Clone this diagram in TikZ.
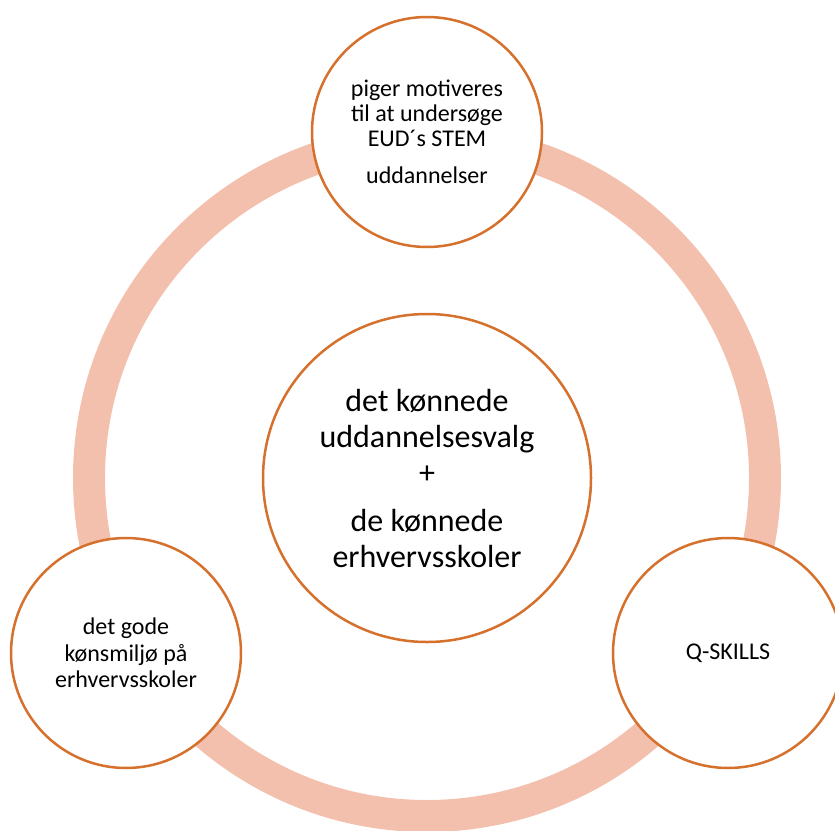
\documentclass[tikz,border=0pt]{standalone}
\usepackage{fontspec}
\setmainfont{Carlito}
\definecolor{ringc}{HTML}{F4C0AE}
\definecolor{edgec}{HTML}{D5702D}
\tikzset{
  bubble/.style={circle, draw=edgec, line width=2.5pt, fill=white, inner sep=0pt,
    minimum size=230pt, align=center, text=black},
  bigbubble/.style={bubble, minimum size=328pt},
  toptext/.style={font=\fontsize{24}{25}\selectfont},
  smalltext/.style={font=\fontsize{24}{26.5}\selectfont},
  bigtext/.style={font=\fontsize{32}{36}\selectfont}
}
\begin{document}
\begin{tikzpicture}[x=1pt,y=-1pt]
\useasboundingbox (0,0) rectangle (835,830);
\coordinate (ctr) at (427,478);
\draw[ringc, line width=32pt] (ctr) circle[radius=338pt];
\node[bigbubble, bigtext] (mid) at (ctr) {det kønnede\\uddannelsesvalg\\+\\[12pt]de kønnede\\erhvervsskoler};
\node[bubble, toptext] (top) at (427,132) {piger motiveres\\til at undersøge\\EUD´s STEM\\[12pt]uddannelser};
\node[bubble, smalltext] (left) at (126,653) {det gode\\kønsmiljø på\\erhvervsskoler};
\node[bubble, smalltext] (right) at (728,653) {Q-SKILLS};
\end{tikzpicture}
\end{document}
